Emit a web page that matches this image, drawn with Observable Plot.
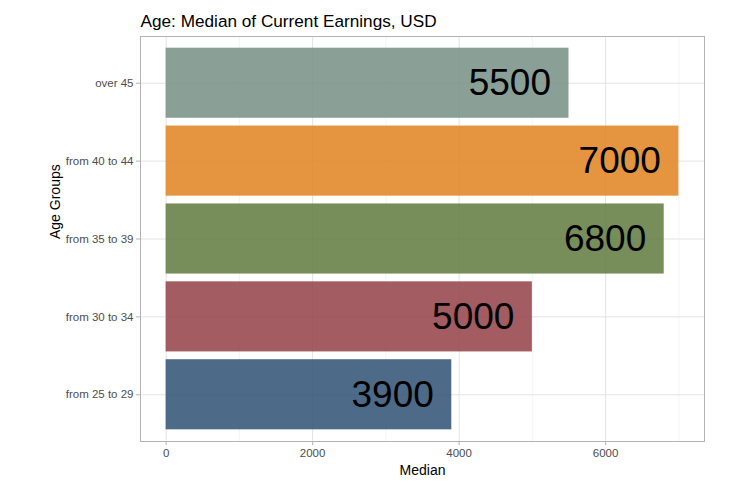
<!DOCTYPE html>
<html>
<head>
<meta charset="utf-8">
<script src="https://cdn.jsdelivr.net/npm/d3@7"></script>
<script src="https://cdn.jsdelivr.net/npm/@observablehq/plot@0.6"></script>
<style>
  html, body { margin: 0; padding: 0; background: #ffffff; }
  #chart svg { display: block; }
</style>
</head>
<body>
<div id="chart"></div>
<script>
const ageGroups = ["from 25 to 29", "from 30 to 34", "from 35 to 39", "from 40 to 44", "over 45"];
const medians = [3900, 5000, 6800, 7000, 5500];
const palette = ["#2e5073", "#924046", "#5f793d", "#e0821d", "#758f85"];
const xTicks = [0, 2000, 4000, 6000];
const xMinorTicks = [1000, 3000, 5000, 7000];
const titleText = "Age: Median of Current Earnings, USD";
const xTitle = "Median";
const yTitle = "Age Groups";

const data = ageGroups.map((age, i) => ({age, median: medians[i]}));
const font = "'Liberation Sans', Arial, sans-serif";

const chart = Plot.plot({
  width: 732,
  height: 485,
  marginLeft: 140,
  marginRight: 28,
  marginTop: 36,
  marginBottom: 44,
  style: {fontFamily: font, fontSize: "11.5px", background: "#ffffff", color: "#4d4d4d"},
  x: {domain: [-350, 7350], label: null},
  y: {domain: ageGroups.slice().reverse(), paddingInner: 0.1, paddingOuter: 0.15, align: 0.5, round: false, label: null},
  color: {domain: ageGroups, range: palette},
  marks: [
    Plot.gridX(xMinorTicks, {stroke: "#efefef", strokeOpacity: 1, strokeWidth: 0.6}),
    Plot.gridX(xTicks, {stroke: "#e3e3e3", strokeOpacity: 1, strokeWidth: 1}),
    Plot.gridY({stroke: "#e3e3e3", strokeOpacity: 1, strokeWidth: 1}),
    Plot.barX(data, {x: "median", y: "age", fill: "age", fillOpacity: 0.85}),
    Plot.text(data, {x: "median", y: "age", text: d => String(d.median), textAnchor: "end", dx: -18, fontSize: 37, fill: "#000000"}),
    Plot.frame({stroke: "#b3b3b3", strokeWidth: 1}),
    Plot.axisX(xTicks, {tickSize: 4, tickPadding: 3, stroke: "#b3b3b3", fill: "#4d4d4d", fontSize: 11.5, tickFormat: d => String(d), label: null}),
    Plot.axisY({tickSize: 4, tickPadding: 3, stroke: "#b3b3b3", fill: "#4d4d4d", fontSize: 11.5, label: null}),
    Plot.text([titleText], {frameAnchor: "top-left", textAnchor: "start", lineAnchor: "bottom", dy: -10, fontSize: 17.2, fill: "#000000", text: d => d}),
    Plot.text([xTitle], {frameAnchor: "bottom", lineAnchor: "middle", dy: 29, fontSize: 14, fill: "#000000", text: d => d}),
    Plot.text([yTitle], {frameAnchor: "left", lineAnchor: "middle", rotate: -90, dx: -85, fontSize: 14, fill: "#000000", text: d => d})
  ]
});
document.getElementById("chart").appendChild(chart);
</script>
</body>
</html>
